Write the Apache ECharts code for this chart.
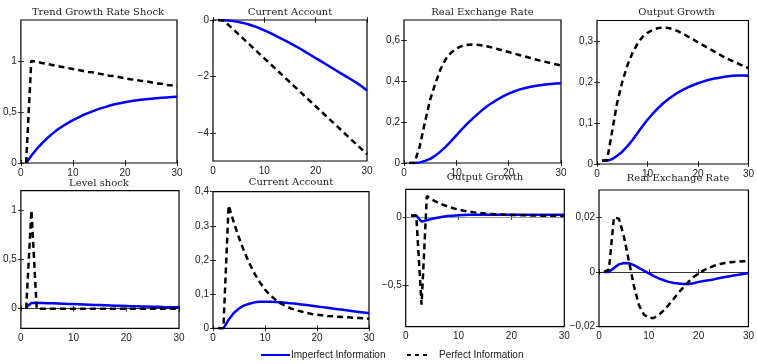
<!DOCTYPE html>
<html><head><meta charset="utf-8">
<script src="https://cdn.jsdelivr.net/npm/echarts@6/dist/echarts.min.js"></script>
<style>html,body{margin:0;padding:0;background:#fff}#c{width:757px;height:364px}</style>
</head><body><div id="c"></div>
<script>
// ---------- DATA ----------
const periods = [1,2,3,4,5,6,7,8,9,10,11,12,13,14,15,16,17,18,19,20,21,22,23,24,25,26,27,28,29,30];
const titles = ['Trend Growth Rate Shock','Current Account','Real Exchange Rate','Output Growth',
                'Level shock','Current Account','Output Growth','Real Exchange Rate'];
const xTicks = [0,10,20,30];
const yTicks = [[0,0.5,1],[-4,-2,0],[0,0.2,0.4,0.6],[0,0.1,0.2,0.3],
                [0,0.5,1],[0,0.1,0.2,0.3,0.4],[-0.5,0],[-0.02,0,0.02]];
const yRanges = [[0,1.4],[-5,0],[0,0.7],[0,0.35],[-0.2,1.2],[0,0.4],[-0.8,0.2],[-0.02,0.03]];
const seriesNames = ['Imperfect Information','Perfect Information'];

// Trend Growth Rate Shock
const imperfect1 = [0,0.07,0.135,0.19,0.24,0.285,0.325,0.36,0.39,0.42,0.445,0.47,0.49,0.51,0.53,0.545,0.56,0.575,0.585,0.595,0.605,0.612,0.619,0.625,0.63,0.635,0.639,0.642,0.645,0.648];
const perfect1   = [0,1.0,0.99,0.98,0.97,0.96,0.95,0.94,0.93,0.92,0.91,0.90,0.89,0.885,0.875,0.865,0.855,0.85,0.84,0.83,0.82,0.815,0.805,0.80,0.79,0.78,0.775,0.765,0.76,0.75];
// Current Account (trend shock)
const imperfect2 = [0,-0.005,-0.02,-0.04,-0.07,-0.11,-0.16,-0.22,-0.29,-0.37,-0.45,-0.54,-0.63,-0.72,-0.82,-0.92,-1.02,-1.13,-1.24,-1.35,-1.46,-1.57,-1.68,-1.79,-1.9,-2.01,-2.12,-2.23,-2.36,-2.5];
const perfect2   = [0,-0.02,-0.17,-0.34,-0.51,-0.68,-0.85,-1.02,-1.19,-1.36,-1.53,-1.70,-1.87,-2.04,-2.21,-2.38,-2.55,-2.72,-2.89,-3.06,-3.23,-3.40,-3.57,-3.74,-3.91,-4.08,-4.25,-4.42,-4.59,-4.76];
// Real Exchange Rate (trend shock)
const imperfect3 = [0,0,0.003,0.01,0.02,0.036,0.057,0.08,0.107,0.135,0.163,0.19,0.215,0.238,0.26,0.28,0.297,0.313,0.327,0.34,0.35,0.359,0.366,0.372,0.377,0.381,0.384,0.387,0.389,0.39];
const perfect3   = [0,0,0.08,0.2,0.31,0.39,0.46,0.51,0.54,0.56,0.572,0.578,0.58,0.579,0.575,0.57,0.564,0.557,0.55,0.543,0.536,0.529,0.522,0.515,0.508,0.501,0.495,0.489,0.483,0.477];
// Output Growth (trend shock)
const imperfect4 = [0.008,0.008,0.012,0.02,0.03,0.043,0.058,0.075,0.092,0.108,0.122,0.135,0.147,0.157,0.166,0.174,0.181,0.187,0.192,0.197,0.201,0.205,0.208,0.21,0.212,0.214,0.215,0.216,0.216,0.215];
const perfect4   = [0.008,0.01,0.08,0.15,0.2,0.24,0.27,0.293,0.31,0.32,0.327,0.331,0.333,0.332,0.329,0.324,0.318,0.311,0.304,0.297,0.29,0.283,0.276,0.269,0.262,0.256,0.25,0.245,0.239,0.234];
// Level shock
const imperfect5 = [0.015,0.058,0.06,0.058,0.056,0.054,0.052,0.05,0.048,0.046,0.044,0.042,0.04,0.038,0.036,0.034,0.032,0.03,0.029,0.027,0.025,0.024,0.022,0.021,0.019,0.018,0.016,0.015,0.014,0.013];
const perfect5   = [0,1.0,0,0,0,0,0,0,0,0,0,0,0,0,0,0,0,0,0,0,0,0,0,0,0,0,0,0,0,0];
// Current Account (level shock)
const imperfect6 = [0,0,0.025,0.045,0.058,0.067,0.072,0.076,0.078,0.078,0.078,0.077,0.076,0.075,0.073,0.072,0.07,0.068,0.066,0.064,0.062,0.06,0.058,0.056,0.054,0.052,0.05,0.048,0.046,0.044];
const perfect6   = [0,0,0.36,0.31,0.265,0.225,0.19,0.16,0.135,0.113,0.097,0.084,0.073,0.065,0.058,0.053,0.049,0.045,0.042,0.04,0.038,0.036,0.035,0.034,0.033,0.032,0.031,0.03,0.029,0.028];
// Output Growth (level shock)
const imperfect7 = [0.01,0.008,-0.035,-0.025,-0.015,-0.007,0,0.005,0.008,0.011,0.013,0.014,0.015,0.015,0.015,0.015,0.015,0.015,0.015,0.015,0.015,0.015,0.015,0.015,0.015,0.015,0.015,0.015,0.015,0.015];
const perfect7   = [0.01,0.01,-0.64,0.15,0.125,0.105,0.088,0.074,0.062,0.052,0.044,0.037,0.032,0.027,0.023,0.02,0.018,0.016,0.014,0.013,0.012,0.011,0.01,0.009,0.008,0.008,0.007,0.007,0.006,0.006];
// Real Exchange Rate (level shock)
const imperfect8 = [0,0,0.0015,0.0028,0.0033,0.0032,0.0025,0.0015,0.0005,-0.0005,-0.0015,-0.0023,-0.003,-0.0036,-0.004,-0.0042,-0.0044,-0.0044,-0.0041,-0.0036,-0.0033,-0.003,-0.0027,-0.0023,-0.0019,-0.0016,-0.0013,-0.001,-0.0007,-0.0004];
const perfect8   = [0,0.001,0.02,0.0195,0.013,0.004,-0.005,-0.012,-0.0155,-0.0168,-0.0168,-0.0157,-0.014,-0.012,-0.0098,-0.0075,-0.0055,-0.0035,-0.0018,-0.0005,0.0006,0.0015,0.0022,0.0028,0.0032,0.0035,0.0037,0.0038,0.0039,0.0039];

const imperfect = [imperfect1,imperfect2,imperfect3,imperfect4,imperfect5,imperfect6,imperfect7,imperfect8];
const perfect   = [perfect1,perfect2,perfect3,perfect4,perfect5,perfect6,perfect7,perfect8];

// ---------- LAYOUT ----------
const boxes = [ // [left, top, right, bottom]
  [19,20,177,163],[213,20,367,161],[404,20,561,163],[597,20.5,756,164],
  [19,190.7,179,328.3],[213,191.7,369,328.3],[405.7,189.3,564.3,326.6],[599,190,757,326.7]
];
const titleY = [12,12,12,12,183,182.5,177.5,178.5];
const zeroLine = [null,null,null,null,'#000',null,'#888','#000'];

const fmt = v => {
  let s = String(+v.toFixed(4)).replace('.', ',');
  return s.replace('-', '\u2212');
};
const labelFont = {fontFamily:'Liberation Sans, Arial, sans-serif', fontSize:10, color:'#222'};

const grid=[], xAxis=[], yAxis=[], series=[], graphic=[];
boxes.forEach((b,i)=>{
  grid.push({left:b[0], top:b[1], width:b[2]-b[0], height:b[3]-b[1], show:true,
             borderColor:'#000', borderWidth:1.2, backgroundColor:'transparent', containLabel:false});
  const tick = {show:true, inside:true, length:3, lineStyle:{color:'#000', width:0.8}};
  xAxis.push({type:'value', gridIndex:i, min:0, max:30, position:'bottom',
    axisLine:{show:false}, splitLine:{show:false},
    axisTick:Object.assign({customValues:xTicks}, tick),
    axisLabel:Object.assign({customValues:xTicks, margin:5, formatter:fmt}, labelFont)});
  xAxis.push({type:'value', gridIndex:i, min:0, max:30, position:'top',
    axisLine:{show:false}, splitLine:{show:false},
    axisTick:Object.assign({customValues:xTicks}, tick), axisLabel:{show:false}});
  yAxis.push({type:'value', gridIndex:i, min:yRanges[i][0], max:yRanges[i][1], position:'left',
    axisLine:{show:false}, splitLine:{show:false},
    axisTick:Object.assign({customValues:yTicks[i]}, tick),
    axisLabel:Object.assign({customValues:yTicks[i], margin:4, formatter:fmt}, labelFont)});
  yAxis.push({type:'value', gridIndex:i, min:yRanges[i][0], max:yRanges[i][1], position:'right',
    axisLine:{show:false}, splitLine:{show:false},
    axisTick:Object.assign({customValues:yTicks[i]}, tick), axisLabel:{show:false}});
  const blue = {name:seriesNames[0], type:'line', xAxisIndex:2*i, yAxisIndex:2*i,
    data: periods.map((p,k)=>[p, imperfect[i][k]]), symbol:'none', smooth:false,
    lineStyle:{color:'#0000ff', width:2.5}, itemStyle:{color:'#0000ff'}, z:3, animation:false};
  if (zeroLine[i]) {
    blue.markLine = {symbol:'none', silent:true, animation:false, label:{show:false},
      lineStyle:{color:zeroLine[i], width:0.8, type:'solid'}, data:[{yAxis:0}], z:1};
  }
  series.push(blue);
  series.push({name:seriesNames[1], type:'line', xAxisIndex:2*i, yAxisIndex:2*i,
    data: periods.map((p,k)=>[p, perfect[i][k]]), symbol:'none', smooth:false,
    lineStyle:{color:'#000', width:2.5, type:[6,4]}, itemStyle:{color:'#000'}, z:4, animation:false});
  graphic.push({type:'text', x:(b[0]+b[2])/2, y:titleY[i], z:10,
    style:{text:titles[i], align:'center', verticalAlign:'middle',
      font:'10px "DejaVu Serif", serif', fill:'#222'}});
});

const chart = echarts.init(document.getElementById('c'), null, {renderer:'canvas'});
chart.setOption({
  animation:false,
  backgroundColor:'#fff',
  grid, xAxis, yAxis, series, graphic,
  legend:[
    {data:[seriesNames[0]], left:260, top:350, padding:0, itemWidth:29, itemHeight:10, itemGap:5,
     itemStyle:{opacity:0}, lineStyle:{width:2},
     textStyle:{fontFamily:'Liberation Sans, Arial, sans-serif', fontSize:10, color:'#222', padding:[0,0,0,-4]}},
    {data:[seriesNames[1]], left:406, top:350, padding:0, itemWidth:21, itemHeight:10, itemGap:5,
     itemStyle:{opacity:0}, lineStyle:{width:2, type:[4,4]},
     textStyle:{fontFamily:'Liberation Sans, Arial, sans-serif', fontSize:10, color:'#222', padding:[0,0,0,6]}}
  ]
});
</script></body></html>
